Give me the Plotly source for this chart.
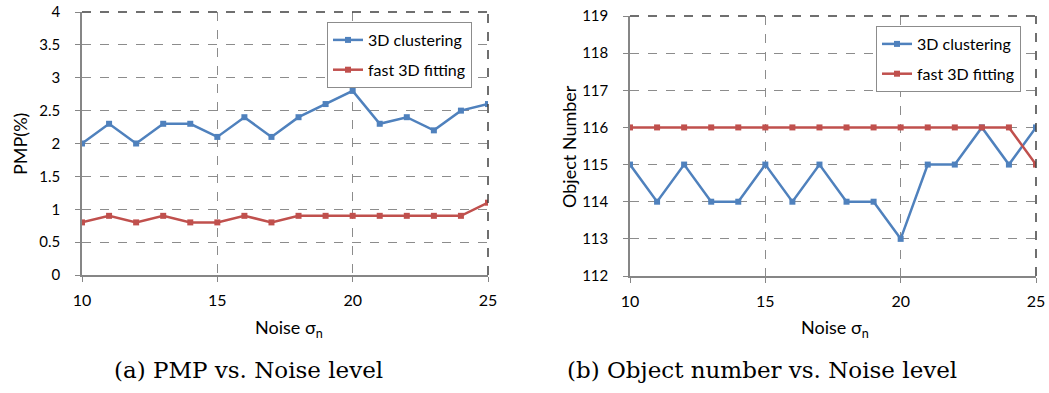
import plotly.graph_objects as go

# Noise levels (sigma_n)
noise = list(range(10, 26))

# PMP (%) per noise level
pmp_clustering = [2.0, 2.3, 2.0, 2.3, 2.3, 2.1, 2.4, 2.1, 2.4, 2.6, 2.8, 2.3, 2.4, 2.2, 2.5, 2.6]
pmp_fitting = [0.8, 0.9, 0.8, 0.9, 0.8, 0.8, 0.9, 0.8, 0.9, 0.9, 0.9, 0.9, 0.9, 0.9, 0.9, 1.1]

# Detected object number per noise level
obj_clustering = [115, 114, 115, 114, 114, 115, 114, 115, 114, 114, 113, 115, 115, 116, 115, 116]
obj_fitting = [116, 116, 116, 116, 116, 116, 116, 116, 116, 116, 116, 116, 116, 116, 116, 115]

BLUE = "#4F81BD"
RED = "#C0504D"
GRID = "#8C8C8C"
AXIS = "#868686"
EDGE = "#404040"
FONT = "Lato, 'Open Sans', sans-serif"

W, H = 1049, 393

def px_x(p):
    return p / W

def px_y(p):
    return 1 - p / H

fig = go.Figure()

def add_series(x, y, name, color, xa, ya, legend, group):
    fig.add_trace(go.Scatter(
        x=x, y=y, name=name, mode="lines+markers",
        line=dict(color=color, width=2.5),
        marker=dict(symbol="square", size=6, color=color),
        xaxis=xa, yaxis=ya, legend=legend, legendgroup=group,
    ))

add_series(noise, pmp_clustering, "3D clustering", BLUE, "x", "y", "legend", "a1")
add_series(noise, pmp_fitting, "fast 3D fitting", RED, "x", "y", "legend", "a2")
add_series(noise, obj_clustering, "3D clustering", BLUE, "x2", "y2", "legend2", "b1")
add_series(noise, obj_fitting, "fast 3D fitting", RED, "x2", "y2", "legend2", "b2")

common_x = dict(
    range=[10, 25], tickvals=[10, 15, 20, 25], showgrid=True,
    gridcolor=GRID, griddash="dash", gridwidth=1,
    showline=True, linecolor=AXIS, linewidth=1.5,
    ticks="outside", ticklen=5, tickcolor=AXIS, ticklabelstandoff=5,
    tickfont=dict(family=FONT, size=16, color="#000"),
    zeroline=False, automargin=False,
)
common_y = dict(
    showgrid=True, gridcolor=GRID, griddash="dash", gridwidth=1,
    showline=True, linecolor=AXIS, linewidth=1.5,
    ticks="outside", ticklen=5, tickcolor=AXIS, ticklabelstandoff=12,
    tickfont=dict(family=FONT, size=15, color="#000"),
    zeroline=False, automargin=False,
)

legend_style = dict(
    bgcolor="white", bordercolor="#8C8C8C", borderwidth=1,
    font=dict(family=FONT, size=16, color="#000"),
    xanchor="left", yanchor="top", tracegroupgap=6,
    traceorder="grouped",
)

fig.update_layout(
    width=W, height=H,
    margin=dict(l=0, r=0, t=0, b=0),
    paper_bgcolor="white", plot_bgcolor="white",
    font=dict(family=FONT, color="#000"),
    xaxis=dict(domain=[px_x(82), px_x(488)], anchor="y", **common_x),
    yaxis=dict(domain=[px_y(275), px_y(12)], anchor="x", range=[0, 4], dtick=0.5, **common_y),
    xaxis2=dict(domain=[px_x(630), px_x(1036)], anchor="y2", **common_x),
    yaxis2=dict(domain=[px_y(276), px_y(16)], anchor="x2", range=[112, 119], dtick=1, **common_y),
    legend=dict(x=px_x(327), y=px_y(22), **legend_style),
    legend2=dict(x=px_x(876), y=px_y(26), **legend_style),
    showlegend=True,
)

# Dark dashed frame along the top and right edges of each plot area
for xa, ya in (("x", "y"), ("x2", "y2")):
    for x0, y0, x1, y1 in ((0, 1, 1, 1), (1, 0, 1, 1)):
        fig.add_shape(
            type="line", xref=f"{xa} domain", yref=f"{ya} domain",
            x0=x0, y0=y0, x1=x1, y1=y1,
            line=dict(color=EDGE, width=1.5, dash="dash"),
        )

# Axis titles
title_font = dict(family=FONT, size=18, color="#000")
axis_titles = [
    ("Noise σ<sub>n</sub>", 289, 328, 0),
    ("Noise σ<sub>n</sub>", 835, 328, 0),
    ("PMP(%)", 20, 144, -90),
    ("Object Number", 569, 147, -90),
]
for text, cx, cy, angle in axis_titles:
    fig.add_annotation(
        text=text, x=px_x(cx), y=px_y(cy), xref="paper", yref="paper",
        showarrow=False, xanchor="center", yanchor="middle", textangle=angle,
        font=title_font,
    )

captions = [("(a) PMP vs. Noise level", 248), ("(b) Object number vs. Noise level", 762)]
for text, cx in captions:
    fig.add_annotation(
        text=text, x=px_x(cx), y=px_y(370), xref="paper", yref="paper",
        showarrow=False, xanchor="center", yanchor="middle",
        font=dict(family="DejaVu Serif", size=23, color="#000"),
    )

fig.write_html("out.html")
